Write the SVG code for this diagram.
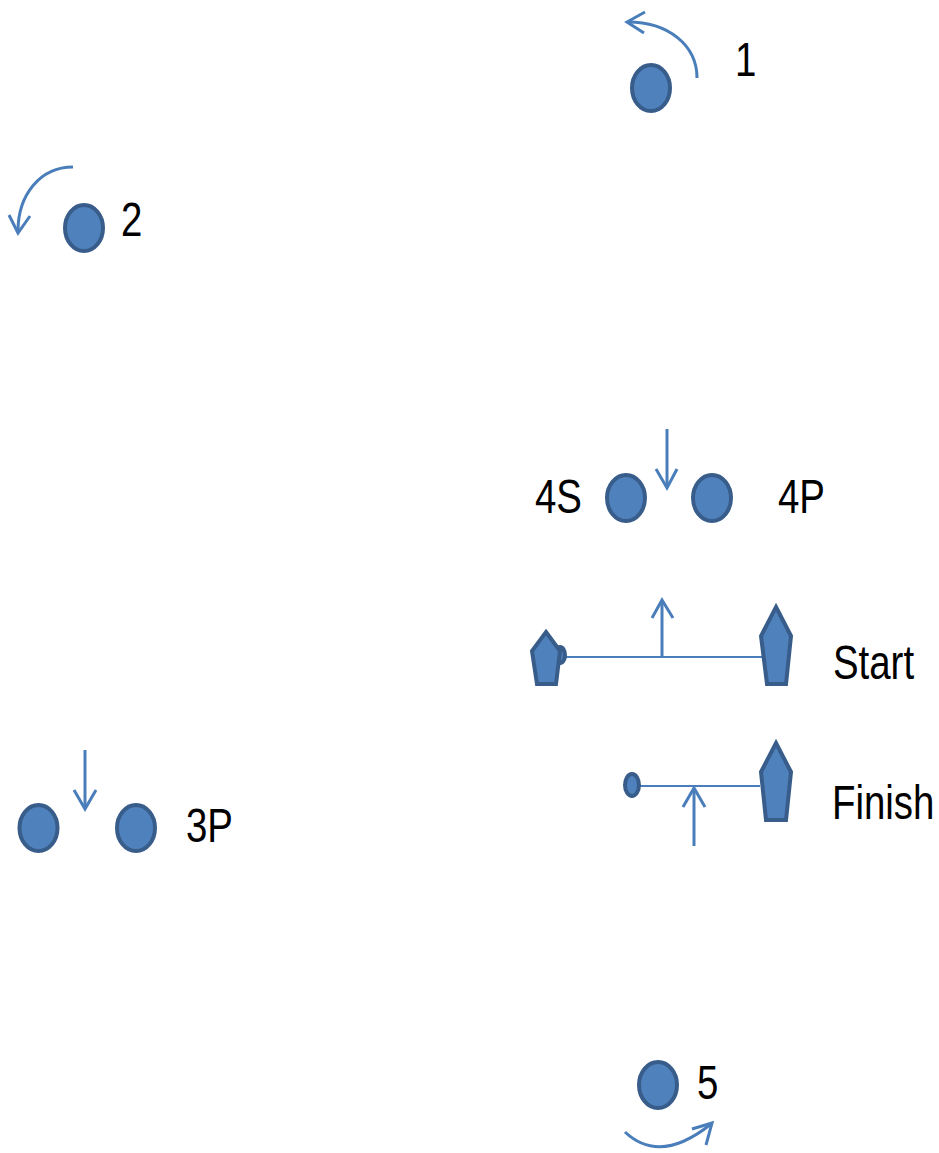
<svg xmlns="http://www.w3.org/2000/svg" width="939" height="1153" viewBox="0 0 939 1153">
<style>
.buoy{fill:#4F81BD;stroke:#385D8A;stroke-width:4}
.boat{fill:#4F81BD;stroke:#385D8A;stroke-width:4;stroke-linejoin:miter}
.arr{fill:none;stroke:#4A7EBB;stroke-width:3;stroke-linecap:butt}
.line{fill:none;stroke:#4A7EBB;stroke-width:2}
.lbl{font-family:"Liberation Sans",Arial,sans-serif;font-size:48px;fill:#000}
</style>
<rect width="939" height="1153" fill="#fff"/>
<g id="connectors">
<path class="arr" d="M697,78 C697,45 668,22 628,22"/>
<polyline class="arr" points="645,12 627,22 644,33"/>
<path class="arr" d="M73,167 C40,167 18,195 18,231"/>
<polyline class="arr" points="9,215 18,233 30,216"/>
<path class="arr" d="M667,429 L667,487"/>
<polyline class="arr" points="656,469 667,488 677,469"/>
<path class="arr" d="M85,750 L85,808"/>
<polyline class="arr" points="74,790 85,809 96,790"/>
<path class="line" d="M565,657 L762,657"/>
<path class="arr" d="M662,657 L662,601"/>
<polyline class="arr" points="652,618 662,600 673,618"/>
<path class="line" d="M640,786 L760,786"/>
<path class="arr" d="M694,846 L694,789"/>
<polyline class="arr" points="683,807 694,788 705,807"/>
<path class="arr" d="M625,1132 Q660,1165 711,1124"/>
<polyline class="arr" points="692,1129 712,1123 706,1145"/>
</g>
<g id="buoy1"><ellipse class="buoy" cx="651" cy="88" rx="19" ry="23"/><text class="lbl" transform="translate(735,76) scale(0.8,1)">1</text></g>
<g id="buoy2"><ellipse class="buoy" cx="84" cy="228" rx="19" ry="23"/><text class="lbl" transform="translate(121,236) scale(0.8,1)">2</text></g>
<g id="gate4"><ellipse class="buoy" cx="626" cy="498" rx="19" ry="23"/><ellipse class="buoy" cx="712" cy="498" rx="19" ry="23"/>
<text class="lbl" transform="translate(535,513) scale(0.8,1)">4S</text><text class="lbl" transform="translate(778,513) scale(0.8,1)">4P</text></g>
<g id="start">
<ellipse class="buoy" cx="560" cy="655" rx="5" ry="8"/>
<polygon class="boat" points="546,632 560,651 556,684 537,684 532,651"/>
<polygon class="boat" points="776,607 791,636 786,684 767,684 761,636"/>
<text class="lbl" transform="translate(833,679) scale(0.8,1)">Start</text>
</g>
<g id="finish">
<ellipse class="buoy" cx="632" cy="785" rx="7" ry="11"/>
<polygon class="boat" points="776,743 791,772 786,820 766,820 761,772"/>
<text class="lbl" transform="translate(832,819) scale(0.8,1)">Finish</text>
</g>
<g id="gate3"><ellipse class="buoy" cx="38.5" cy="828" rx="19" ry="23"/><ellipse class="buoy" cx="136" cy="828" rx="19" ry="23"/>
<text class="lbl" transform="translate(186,842) scale(0.8,1)">3P</text></g>
<g id="buoy5"><ellipse class="buoy" cx="658" cy="1085" rx="19" ry="23"/><text class="lbl" transform="translate(697,1099) scale(0.8,1)">5</text></g>
</svg>
